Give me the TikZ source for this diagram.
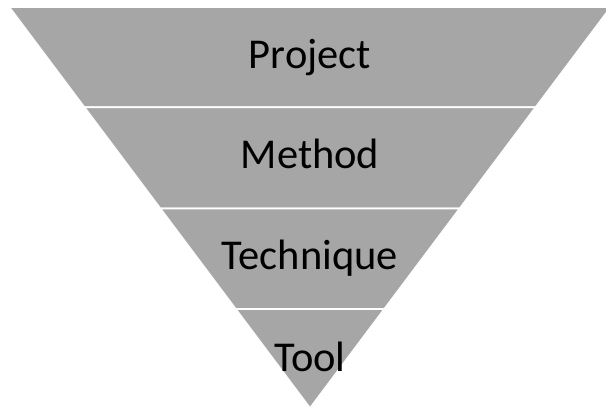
\documentclass[tikz,border=0pt]{standalone}
\usepackage{fontspec}
\setmainfont{Carlito}
\definecolor{bandgray}{HTML}{A6A6A6}
\begin{document}
\begin{tikzpicture}[x=1pt,y=-1pt,
  band/.style={fill=bandgray,draw=white,line width=1.6pt,line join=miter},
  label/.style={font=\fontsize{42.5}{42.5}\selectfont,text=black,anchor=base}]
\useasboundingbox (0,0) rectangle (606,409);
% inverted triangle: apex at (310,408), sides with slope 0.75 (half width per unit height)
\foreach \ya/\yb in {7/107.3, 107.3/208.5, 208.5/309, 309/408}{
  \pgfmathsetmacro{\ha}{0.75*(408-\ya)}
  \pgfmathsetmacro{\hb}{0.75*(408-\yb)}
  \path[band] (310-\ha,\ya) -- (310+\ha,\ya) -- (310+\hb,\yb) -- (310-\hb,\yb) -- cycle;
}
\node[label] (project) at (310,68.5) {Project};
\node[label] (method) at (310,169) {Method};
\node[label] (technique) at (310,269.5) {Technique};
\node[label] (tool) at (310,371.5) {Tool};
\end{tikzpicture}
\end{document}
